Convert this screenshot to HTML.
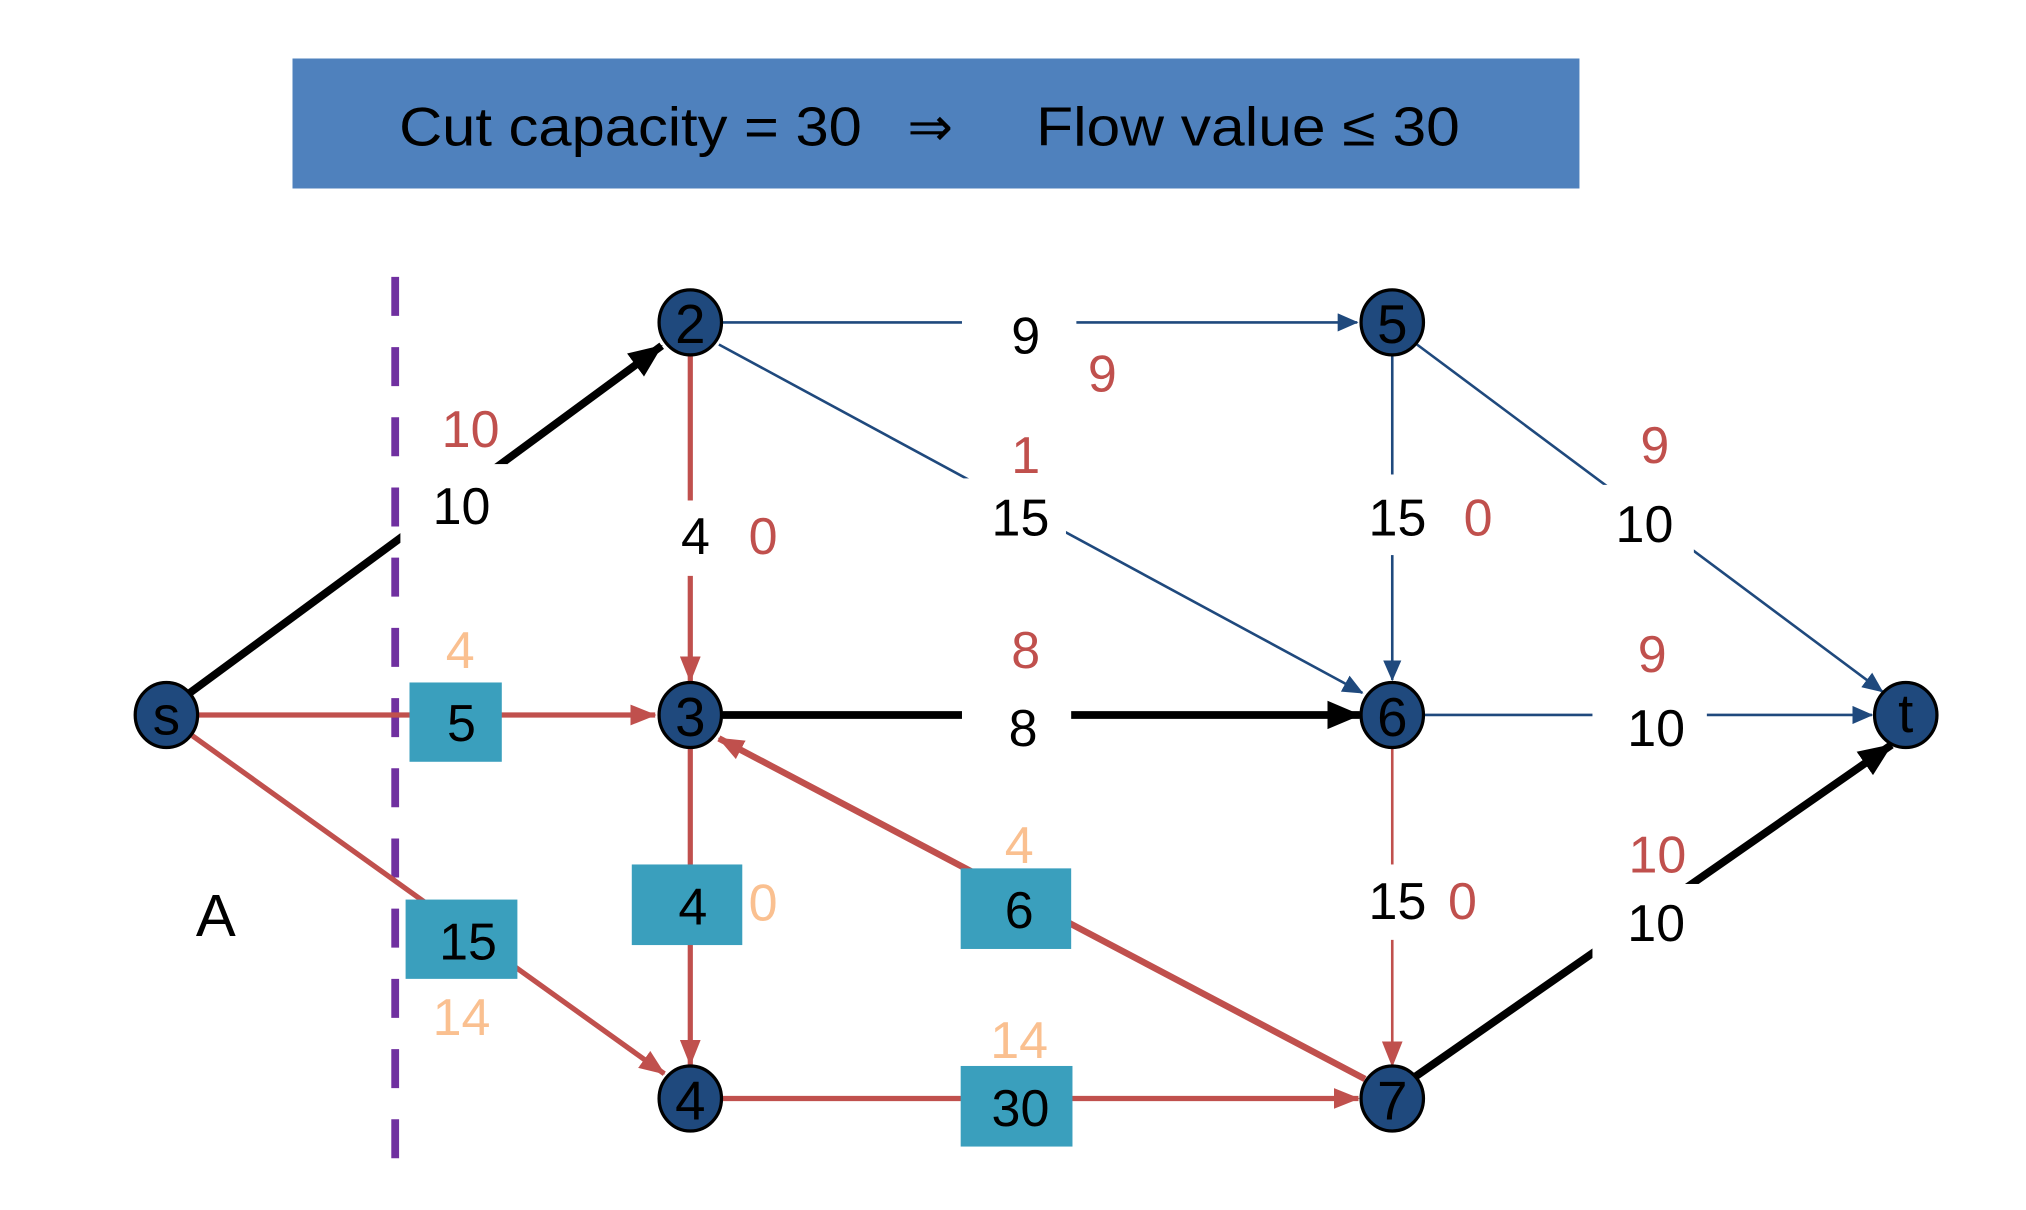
<!DOCTYPE html>
<html><head><meta charset="utf-8"><style>
html,body{margin:0;padding:0;background:#fff;}
svg{display:block;}
text{font-family:"Liberation Sans",sans-serif;}
</style></head><body>
<svg width="2026" height="1210" viewBox="0 0 1558.5 930.8" xmlns="http://www.w3.org/2000/svg">
<defs>
<marker id="ab" markerUnits="userSpaceOnUse" markerWidth="16" markerHeight="14" refX="15" refY="7" orient="auto"><path d="M0,0 L16,7 L0,14 z" fill="#1f497d"/></marker>
<marker id="ar" markerUnits="userSpaceOnUse" markerWidth="20" markerHeight="16" refX="19" refY="8" orient="auto"><path d="M0,0 L20,8 L0,16 z" fill="#c0504d"/></marker>
<marker id="ak" markerUnits="userSpaceOnUse" markerWidth="26" markerHeight="22" refX="25" refY="11" orient="auto"><path d="M0,0 L26,11 L0,22 z" fill="#000"/></marker>
</defs>
<rect x="225" y="45" width="990" height="100" fill="#4f81bd"/>
<text x="307" y="112" font-size="42" fill="#000" textLength="356" lengthAdjust="spacingAndGlyphs">Cut capacity = 30</text>
<text x="698" y="112" font-size="42" fill="#000">⇒</text>
<text x="797" y="112" font-size="42" fill="#000" textLength="326" lengthAdjust="spacingAndGlyphs">Flow value ≤ 30</text>

<line x1="304" y1="213" x2="304" y2="895" stroke="#7030a0" stroke-width="6" stroke-dasharray="30,24"/>

<g stroke="#1f497d" stroke-width="2" fill="none">
<line x1="556" y1="248" x2="1044" y2="248" marker-end="url(#ab)"/>
<line x1="553" y1="265" x2="1048" y2="533" marker-end="url(#ab)"/>
<line x1="1071" y1="273" x2="1071" y2="523" marker-end="url(#ab)"/>
<line x1="1090" y1="265" x2="1448" y2="532" marker-end="url(#ab)"/>
<line x1="1096" y1="550" x2="1440" y2="550" marker-end="url(#ab)"/>
</g>
<g stroke="#c0504d" fill="none">
<line x1="150" y1="550" x2="504" y2="550" stroke-width="4" marker-end="url(#ar)"/>
<line x1="148" y1="566" x2="511" y2="826" stroke-width="4" marker-end="url(#ar)"/>
<line x1="531" y1="273" x2="531" y2="524" stroke-width="4" marker-end="url(#ar)"/>
<line x1="531" y1="575" x2="531" y2="819" stroke-width="4" marker-end="url(#ar)"/>
<line x1="1050" y1="830" x2="553" y2="568" stroke-width="5" marker-end="url(#ar)"/>
<line x1="556" y1="845" x2="1045" y2="845" stroke-width="4" marker-end="url(#ar)"/>
<line x1="1071" y1="575" x2="1071" y2="820" stroke-width="2" marker-end="url(#ar)"/>
</g>
<g stroke="#000" stroke-width="6" fill="none">
<line x1="146" y1="533" x2="509" y2="266" marker-end="url(#ak)"/>
<line x1="556" y1="550" x2="1046" y2="550" marker-end="url(#ak)"/>
<line x1="1089" y1="828" x2="1455" y2="573" marker-end="url(#ak)"/>
</g>

<g fill="#fff">
<rect x="308" y="357" width="82" height="62"/>
<rect x="740" y="230" width="88" height="50"/>
<rect x="740" y="368" width="80" height="56"/>
<rect x="506" y="385" width="50" height="58"/>
<rect x="740" y="525" width="84" height="60"/>
<rect x="1040" y="365" width="62" height="62"/>
<rect x="1225" y="373" width="78" height="56"/>
<rect x="1225" y="530" width="88" height="54"/>
<rect x="1040" y="665" width="62" height="58"/>
<rect x="1225" y="680" width="86" height="66"/>
</g>

<g fill="#3a9fbd">
<rect x="315" y="525" width="71" height="61"/>
<rect x="312" y="692" width="86" height="61"/>
<rect x="486" y="665" width="85" height="62"/>
<rect x="739" y="668" width="85" height="62"/>
<rect x="739" y="820" width="86" height="62"/>
</g>

<g fill="#1f497d" stroke="#000" stroke-width="2.5">
<ellipse cx="128" cy="550" rx="24" ry="25"/>
<ellipse cx="531" cy="248" rx="24" ry="25"/>
<ellipse cx="531" cy="550" rx="24" ry="25"/>
<ellipse cx="531" cy="845" rx="24" ry="25"/>
<ellipse cx="1071" cy="248" rx="24" ry="25"/>
<ellipse cx="1071" cy="550" rx="24" ry="25"/>
<ellipse cx="1071" cy="845" rx="24" ry="25"/>
<ellipse cx="1466" cy="550" rx="24" ry="25"/>
</g>
<g font-size="42" text-anchor="middle" fill="#000">
<text x="128" y="565">s</text>
<text x="531" y="264">2</text>
<text x="531" y="566">3</text>
<text x="531" y="861">4</text>
<text x="1071" y="264">5</text>
<text x="1071" y="566">6</text>
<text x="1071" y="861">7</text>
<text x="1466" y="563">t</text>
</g>

<g font-size="40" text-anchor="middle" fill="#000">
<text x="355" y="403">10</text>
<text x="789" y="272">9</text>
<text x="785" y="412">15</text>
<text x="535" y="426">4</text>
<text x="787" y="574">8</text>
<text x="1075" y="412">15</text>
<text x="1265" y="417">10</text>
<text x="1274" y="574">10</text>
<text x="1075" y="707">15</text>
<text x="1274" y="724">10</text>
<text x="355" y="570">5</text>
<text x="360" y="738">15</text>
<text x="533" y="711">4</text>
<text x="784" y="714">6</text>
<text x="785" y="866">30</text>
<text x="166" y="720" font-size="46">A</text>
</g>
<g font-size="40" text-anchor="middle" fill="#c0504d">
<text x="362" y="344">10</text>
<text x="848" y="301">9</text>
<text x="789" y="364">1</text>
<text x="587" y="426">0</text>
<text x="789" y="514">8</text>
<text x="1137" y="412">0</text>
<text x="1273" y="356">9</text>
<text x="1271" y="517">9</text>
<text x="1125" y="707">0</text>
<text x="1275" y="671">10</text>
</g>
<g font-size="40" text-anchor="middle" fill="#fac090">
<text x="354" y="514">4</text>
<text x="355" y="796">14</text>
<text x="587" y="708">0</text>
<text x="784" y="664">4</text>
<text x="784" y="814">14</text>
</g>
</svg>
</body></html>
